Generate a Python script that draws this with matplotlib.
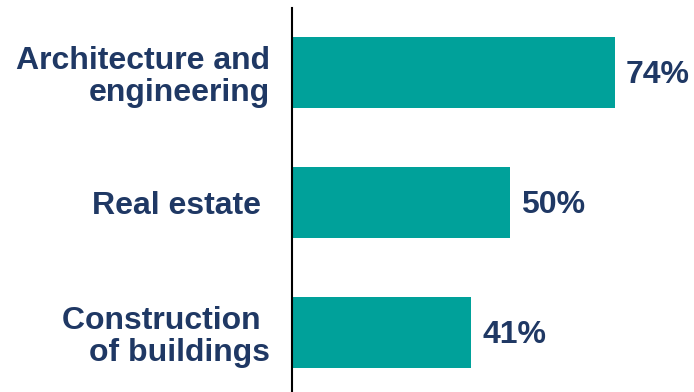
import matplotlib.pyplot as plt
import numpy as np

plt.rcParams['font.family'] = ['Liberation Sans', 'DejaVu Sans']

categories = ['Architecture and\nengineering', 'Real estate ', 'Construction \nof buildings']
values = [74, 50, 41]

bar_color = '#00A19A'
text_color = '#1F3864'

fig = plt.figure(figsize=(6.94, 3.92), dpi=100)
ax = fig.add_axes([292 / 694, 0, 402 / 694, 1 - 8 / 392])

y = np.arange(len(categories))
ax.barh(y, values, height=0.546, color=bar_color)
ax.set_xlim(0, 402 / 4.365)
ax.set_ylim(2.46, -0.496)

# value labels just past the bar ends
for yi, v in zip(y, values):
    ax.annotate(f'{v}%', xy=(v, yi), xytext=(8, -2), textcoords='offset points',
                ha='left', va='center', fontsize=23, fontweight='bold', color=text_color)

ax.set_yticks(y)
ax.set_yticklabels(categories, fontsize=23, fontweight='bold', color=text_color,
                   ha='right', linespacing=1.08)
ax.tick_params(axis='y', length=0, pad=16)
ax.set_xticks([])

for side in ['top', 'right', 'bottom']:
    ax.spines[side].set_visible(False)
ax.spines['left'].set_linewidth(1.5)
ax.spines['left'].set_color('black')

fig.savefig('out.png', dpi=100)
